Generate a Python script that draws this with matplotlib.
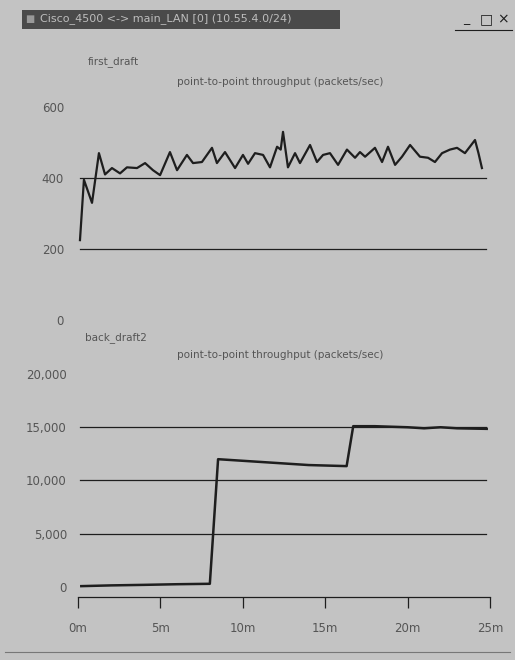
import matplotlib
matplotlib.use("Agg")
import matplotlib.pyplot as plt
from matplotlib.patches import Rectangle

# ---- data (minutes, packets/sec) ----
first_t = [0.12, 0.36, 0.85, 1.27, 1.64, 2.06, 2.55, 2.97, 3.58, 4.07, 4.55, 4.98,
           5.58, 6.01, 6.61, 6.98, 7.52, 8.13, 8.43, 8.92, 9.53, 10.01, 10.32, 10.74,
           11.23, 11.65, 12.08, 12.30, 12.44, 12.74, 13.17, 13.47, 14.08, 14.50, 14.87, 15.29,
           15.78, 16.32, 16.81, 17.11, 17.42, 18.02, 18.45, 18.81, 19.24, 19.66, 20.15,
           20.75, 21.24, 21.66, 22.09, 22.57, 23.00, 23.48, 24.09, 24.30, 24.51]
first_v = [225, 395, 330, 470, 410, 428, 413, 430, 428, 442, 422, 408,
           473, 422, 465, 442, 445, 485, 442, 473, 428, 465, 440, 470,
           465, 430, 488, 480, 530, 430, 470, 442, 493, 445, 465, 470,
           437, 480, 457, 473, 460, 485, 445, 488, 437, 460, 493,
           460, 457, 445, 470, 480, 485, 470, 507, 470, 428]

back_t = [0.2, 2.0, 4.0, 6.0, 8.0, 8.5, 10.0, 12.0, 14.0, 16.3, 16.7, 18.0, 20.0, 21.0, 22.0, 23.0, 24.8]
back_v = [80, 150, 200, 260, 300, 12000, 11850, 11650, 11450, 11350, 15100, 15100, 15000, 14900, 15000, 14900, 14850]

top_ticks = [0, 200, 400, 600]
top_grid = [200, 400]
bot_ticks = [0, 5000, 10000, 15000, 20000]
bot_labels = ["0", "5,000", "10,000", "15,000", "20,000"]
bot_grid = [5000, 10000, 15000]
x_ticks = [0, 5, 10, 15, 20, 25]
x_labels = ["0m", "5m", "10m", "15m", "20m", "25m"]

bg = "#c3c3c3"
ink = "#1e1e1e"
txt = "#555555"

fig = plt.figure(figsize=(5.15, 6.6), dpi=100, facecolor=bg)

# window title bar
fig.patches.append(Rectangle((22 / 515, 1 - 29 / 660), 318 / 515, 19 / 660,
                             transform=fig.transFigure, facecolor="#4a4a4a",
                             edgecolor="none"))
fig.text(40 / 515, 1 - 19 / 660, "Cisco_4500 <-> main_LAN [0] (10.55.4.0/24)",
         color="#bdbdbd", fontsize=8, va="center", ha="left")
fig.text(25 / 515, 1 - 19 / 660, "\u25a0", color="#999999", fontsize=7, va="center")
fig.text(463 / 515, 1 - 19 / 660, "_", color=ink, fontsize=9, va="center")
fig.text(480 / 515, 1 - 19 / 660, "\u25a1", color=ink, fontsize=10, va="center")
fig.text(497 / 515, 1 - 19 / 660, "\u00d7", color=ink, fontsize=10, va="center")
fig.lines.append(plt.Line2D([455 / 515, 512 / 515], [1 - 30 / 660, 1 - 30 / 660],
                            transform=fig.transFigure, color=ink, lw=0.8))
fig.lines.append(plt.Line2D([0.01, 0.99], [1 - 652 / 660, 1 - 652 / 660],
                            transform=fig.transFigure, color="#777777", lw=0.8))

left = 78 / 515
width = (490 - 78) / 515

# ---- top panel ----
ax1 = fig.add_axes([left, 1 - 320 / 660, width, (320 - 107) / 660])
ax1.set_facecolor(bg)
ax1.set_xlim(0, 25)
ax1.set_ylim(0, 600)
for g in top_grid:
    ax1.axhline(g, color=ink, lw=0.9, xmin=0.005, xmax=0.99)
ax1.plot(first_t, first_v, color=ink, lw=1.6)
ax1.set_yticks(top_ticks)
ax1.set_yticklabels([str(v) for v in top_ticks], color=txt, fontsize=8.5)
ax1.set_xticks([])
ax1.tick_params(axis="y", length=0, pad=10)
for s in ax1.spines.values():
    s.set_visible(False)

fig.text(88 / 515, 1 - 62 / 660, "first_draft", color=txt, fontsize=7.5, va="center")
fig.text(280 / 515, 1 - 82 / 660, "point-to-point throughput (packets/sec)",
         color=txt, fontsize=7.5, ha="center", va="center")

# ---- bottom panel ----
ax2 = fig.add_axes([left, 1 - 597 / 660, width, (597 - 374) / 660])
ax2.set_facecolor(bg)
ax2.set_xlim(0, 25)
ax2.set_ylim(-940, 20000)
for g in bot_grid:
    ax2.axhline(g, color=ink, lw=0.9, xmin=0.005, xmax=0.99)
ax2.plot(back_t, back_v, color=ink, lw=1.8)
ax2.set_yticks(bot_ticks)
ax2.set_yticklabels(bot_labels, color=txt, fontsize=8.5)
ax2.set_xticks(x_ticks)
ax2.set_xticklabels(x_labels, color=txt, fontsize=8.5)
ax2.tick_params(axis="y", length=0, pad=8)
ax2.tick_params(axis="x", length=8, width=0.9, color=ink, pad=10)
for name, s in ax2.spines.items():
    s.set_visible(name == "bottom")
ax2.spines["bottom"].set_color(ink)
ax2.spines["bottom"].set_linewidth(0.9)

fig.text(85 / 515, 1 - 338 / 660, "back_draft2", color=txt, fontsize=7.5, va="center")
fig.text(280 / 515, 1 - 355 / 660, "point-to-point throughput (packets/sec)",
         color=txt, fontsize=7.5, ha="center", va="center")

fig.savefig("out.png", dpi=100, facecolor=bg)
